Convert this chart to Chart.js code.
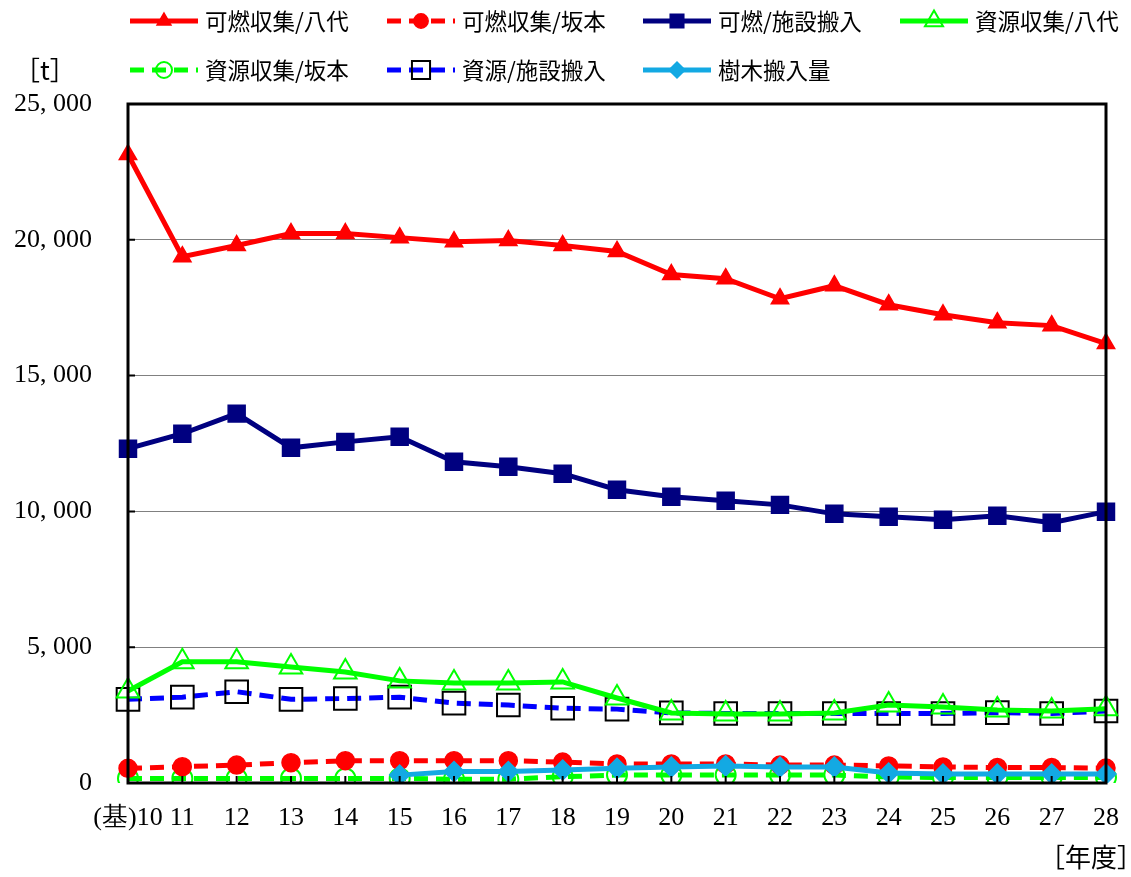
<!DOCTYPE html>
<html>
<head>
<meta charset="utf-8">
<script src="https://cdn.jsdelivr.net/npm/chart.js@4/dist/chart.umd.min.js"></script>
<style>
  html, body { margin: 0; padding: 0; background: #fff; }
  #wrap { width: 1131px; height: 877px; position: relative; }
</style>
</head>
<body>
<div id="wrap"><canvas id="chart" width="1131" height="877"></canvas></div>
<script>
// fiscal years (heisei)
const years = ['(基)10', '11', '12', '13', '14', '15', '16', '17', '18', '19',
               '20', '21', '22', '23', '24', '25', '26', '27', '28'];

const kanenYatsushiro = [23140, 19380, 19790, 20230, 20230, 20080, 19930, 19970, 19790, 19570,
                         18720, 18570, 17830, 18310, 17610, 17240, 16950, 16840, 16180];
const kanenSakamoto = [540, 600, 660, 750, 820, 820, 820, 820, 770, 700,
                       700, 700, 660, 660, 630, 590, 570, 570, 550];
const kanenShisetsu = [12310, 12860, 13600, 12340, 12560, 12750, 11830, 11640, 11390, 10800,
                       10540, 10390, 10240, 9910, 9800, 9690, 9840, 9580, 9990];
const shigenYatsushiro = [3390, 4460, 4460, 4270, 4090, 3760, 3680, 3680, 3720, 3130,
                          2580, 2540, 2540, 2580, 2870, 2800, 2690, 2650, 2730];
const shigenSakamoto = [170, 170, 170, 170, 170, 170, 140, 140, 230, 290,
                        290, 290, 290, 290, 220, 200, 200, 200, 200];
const shigenShisetsu = [3080, 3160, 3360, 3080, 3110, 3160, 2940, 2870, 2750, 2720,
                        2580, 2560, 2560, 2560, 2560, 2560, 2590, 2560, 2650];
const jumoku = [null, null, null, null, null, 290, 420, 420, 480, 540,
                590, 630, 590, 590, 370, 330, 330, 330, 330];

const yTicks = [0, 5000, 10000, 15000, 20000, 25000];

const serif = '"Liberation Serif", "DejaVu Serif", serif';
const gothic = '"Noto Sans CJK JP", "Noto Sans", sans-serif';

// legend drawn by hand so the rows start at the left like the original
const legendPlugin = {
  id: 'handLegend',
  afterDraw(chart) {
    const ctx = chart.ctx;
    const cols = [130, 387, 643, 900];
    const rows = [21, 70];
    ctx.save();
    ctx.font = '22.5px ' + gothic;
    ctx.textBaseline = 'middle';
    chart.data.datasets.forEach((ds, i) => {
      const x = cols[i % 4];
      const y = rows[Math.floor(i / 4)];
      ctx.strokeStyle = ds.borderColor;
      ctx.lineWidth = ds.borderWidth;
      ctx.setLineDash(ds.borderDash || []);
      ctx.beginPath();
      ctx.moveTo(x, y);
      ctx.lineTo(x + 68, y);
      ctx.stroke();
      ctx.setLineDash([]);
      ctx.fillStyle = ds.pointBackgroundColor;
      ctx.strokeStyle = ds.pointBorderColor;
      ctx.lineWidth = ds.pointBorderWidth;
      Chart.helpers.drawPoint(ctx, {
        pointStyle: ds.pointStyle,
        radius: ds.pointRadius * 0.8,
        borderWidth: ds.pointBorderWidth
      }, x + 34, y);
      ctx.fillStyle = '#000';
      ctx.fillText(ds.label, x + 75, y);
    });
    ctx.font = '26px ' + gothic;
    ctx.fillText('［t］', 14, 70);
    ctx.textAlign = 'right';
    ctx.fillText('［年度］', 1143, 857);
    ctx.restore();
  }
};

// black frame and inward ticks
const framePlugin = {
  id: 'frame',
  afterDatasetsDraw(chart) {
    const { ctx, chartArea: a, scales } = chart;
    ctx.save();
    ctx.strokeStyle = '#000';
    ctx.lineWidth = 3;
    ctx.strokeRect(a.left, a.top, a.right - a.left, a.bottom - a.top);
    ctx.lineWidth = 2;
    ctx.beginPath();
    yTicks.forEach(v => {
      const y = scales.y.getPixelForValue(v);
      ctx.moveTo(a.left, y);
      ctx.lineTo(a.left + 7, y);
    });
    years.forEach((_, i) => {
      const x = scales.x.getPixelForValue(i);
      ctx.moveTo(x, a.bottom);
      ctx.lineTo(x, a.bottom - 7);
    });
    ctx.stroke();
    ctx.restore();
  }
};

function line(label, data, color, opts) {
  return Object.assign({
    label: label,
    data: data,
    borderColor: color,
    borderWidth: 5,
    pointBackgroundColor: color,
    pointBorderColor: color,
    pointBorderWidth: 1.5,
    pointRadius: 8,
    tension: 0,
    spanGaps: false,
    order: 1
  }, opts);
}

const datasets = [
  line('可燃収集/八代', kanenYatsushiro, '#FF0000', { pointStyle: 'triangle', pointRadius: 10 }),
  line('可燃収集/坂本', kanenSakamoto, '#FF0000', { pointStyle: 'circle', pointRadius: 9, borderDash: [14, 8] }),
  line('可燃/施設搬入', kanenShisetsu, '#000080', { pointStyle: 'rect', pointRadius: 12 }),
  line('資源収集/八代', shigenYatsushiro, '#00FF00', { pointStyle: 'triangle', pointRadius: 13, pointBackgroundColor: 'rgba(255,255,255,0)', pointBorderWidth: 2 }),
  line('資源収集/坂本', shigenSakamoto, '#00FF00', { pointStyle: 'circle', pointRadius: 10, pointBackgroundColor: 'rgba(255,255,255,0)', pointBorderWidth: 2, borderDash: [14, 8] }),
  line('資源/施設搬入', shigenShisetsu, '#0000FF', { pointStyle: 'rect', pointRadius: 16, pointBackgroundColor: 'rgba(255,255,255,0)', pointBorderColor: '#000', pointBorderWidth: 2, borderDash: [14, 8] }),
  line('樹木搬入量', jumoku, '#13A9E3', { pointStyle: 'rectRot', pointRadius: 10, order: 0 })
];

new Chart(document.getElementById('chart'), {
  type: 'line',
  data: { labels: years, datasets: datasets },
  options: {
    responsive: false,
    animation: false,
    layout: { padding: { top: 104, right: 21, bottom: 0, left: 0 } },
    plugins: { legend: { display: false }, tooltip: { enabled: false } },
    scales: {
      x: {
        offset: false,
        grid: { display: false },
        border: { display: false },
        ticks: { color: '#000', font: { family: serif, size: 26 }, padding: 12, maxRotation: 0, autoSkip: false },
        afterFit(s) { s.height = 94; }
      },
      y: {
        min: 0,
        max: 25000,
        grid: { color: '#808080', lineWidth: 1, drawTicks: false },
        border: { display: false },
        afterBuildTicks(s) { s.ticks = yTicks.map(v => ({ value: v })); },
        ticks: {
          color: '#000',
          font: { family: serif, size: 26 },
          padding: 36,
          callback: v => v.toLocaleString('en-US').replace(',', ', ')
        },
        afterFit(s) { s.width = 128; }
      }
    }
  },
  plugins: [framePlugin, legendPlugin]
});
</script>
</body>
</html>
